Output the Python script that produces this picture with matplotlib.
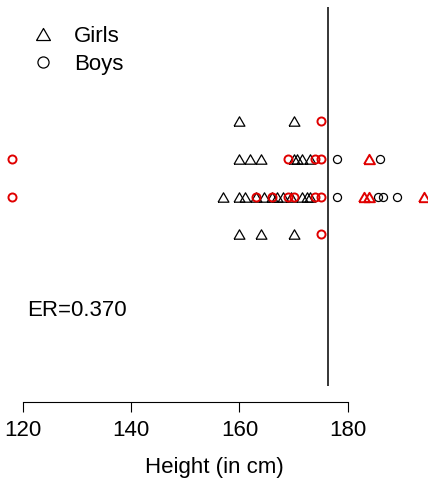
import numpy as np
import matplotlib
matplotlib.use('Agg')
import matplotlib.pyplot as plt
from matplotlib.lines import Line2D

plt.rcParams['font.family'] = ['Liberation Sans', 'DejaVu Sans']

# heights (cm) for each row of the strip chart
girls_row = [7, 7,
             6, 6, 6, 6, 6, 6, 6, 6,
             5, 5, 5, 5, 5, 5, 5, 5, 5, 5, 5, 5, 5, 5, 5,
             4, 4, 4]
girls_height = [160, 170,
                160, 162, 164, 170, 170.7, 171.6, 173, 184,
                157, 160, 161, 163, 164.5, 166, 167, 168, 169.5, 171.5, 172.5, 173, 183, 184, 194,
                160, 164, 170]
boys_row = [7,
            6, 6, 6, 6, 6, 6,
            5, 5, 5, 5, 5, 5, 5, 5, 5, 5, 5,
            4]
boys_height = [175,
               118, 169, 174, 175, 178, 186,
               118, 163, 166, 169, 170, 174, 175, 178, 185.5, 186.5, 189,
               175]
threshold = 176.4
error_rate = 0.370
xticks = [120, 140, 160, 180]

girls_row = np.array(girls_row)
girls_height = np.array(girls_height)
boys_row = np.array(boys_row)
boys_height = np.array(boys_height)

tri = [(-1, -0.866), (1, -0.866), (0, 0.866), (-1, -0.866)]
red = '#e00000'

fig = plt.figure(figsize=(4.28, 4.79), dpi=100)
ax = fig.add_axes([0, 93 / 479, 1, 379 / 479])

g_bad = girls_height > threshold
b_bad = boys_height < threshold
ax.plot(girls_height[~g_bad], girls_row[~g_bad], ls='none', marker=tri, ms=7.8,
        mfc='none', mec='black', mew=0.9)
ax.plot(boys_height[~b_bad], boys_row[~b_bad], ls='none', marker='o', ms=5.8,
        mfc='none', mec='black', mew=0.9)
ax.plot(girls_height[g_bad], girls_row[g_bad], ls='none', marker=tri, ms=7.8,
        mfc='none', mec=red, mew=1.4)
ax.plot(boys_height[b_bad], boys_row[b_bad], ls='none', marker='o', ms=5.8,
        mfc='none', mec=red, mew=1.4)

ax.axvline(threshold, color='black', lw=1.1)
ax.text(130, 2, 'ER=%.3f' % error_rate, fontsize=16, ha='center', va='center')

ax.set_xlim(120 - 22.7 / 5.418, 120 + (428 - 22.7) / 5.418)
ax.set_ylim(0, 10)

for s in ['top', 'right', 'left']:
    ax.spines[s].set_visible(False)
ax.spines['bottom'].set_position(('outward', 11.3))
ax.spines['bottom'].set_bounds(120, 180)
ax.spines['bottom'].set_linewidth(0.8)
ax.set_xticks(xticks)
ax.set_yticks([])
ax.tick_params(axis='x', direction='out', length=7, width=0.8, labelsize=16, pad=6)
ax.set_xlabel('Height (in cm)', fontsize=16, labelpad=12)

handles = [Line2D([], [], ls='none', marker=tri, ms=10, mfc='none', mec='black', mew=0.9),
           Line2D([], [], ls='none', marker='o', ms=8, mfc='none', mec='black', mew=0.9)]
ax.legend(handles, ['Girls', 'Boys'], loc='upper left', bbox_to_anchor=(0.075, 0.95),
          frameon=False, fontsize=16, handlelength=1.0, handletextpad=0.9,
          labelspacing=0.3, borderpad=0, borderaxespad=0)

fig.savefig('out.png', dpi=100)
